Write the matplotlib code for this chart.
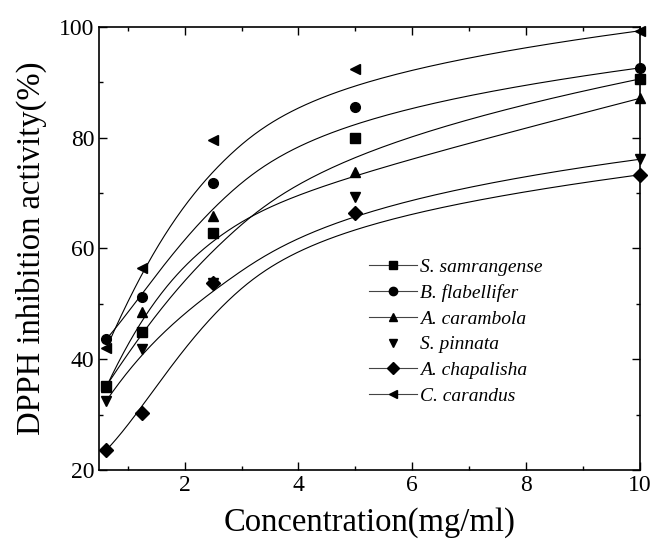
import numpy as np
import matplotlib.pyplot as plt
from matplotlib.lines import Line2D
from matplotlib.ticker import MultipleLocator

# concentration (mg/ml)
conc = [0.625, 1.25, 2.5, 5, 10]

species = ['S. samrangense', 'B. flabellifer', 'A. carambola',
           'S. pinnata', 'A. chapalisha', 'C. carandus']
markers = ['s', 'o', '^', 'v', 'D', '<']

samrangense = [35.2, 44.9, 62.7, 80.0, 90.6]
flabellifer = [43.6, 51.2, 71.9, 85.6, 92.6]
carambola = [35.0, 48.6, 65.9, 73.8, 87.1]
pinnata = [32.5, 41.8, 53.7, 69.2, 76.1]
chapalisha = [23.6, 30.3, 53.7, 66.4, 73.3]
carandus = [42.0, 56.5, 79.6, 92.4, 99.3]

series = [samrangense, flabellifer, carambola, pinnata, chapalisha, carandus]


def bspline(px, py, k=3, n=300):
    """Clamped B-spline using the data points as control points (like Origin's B-spline line)."""
    P = np.column_stack([px, py]).astype(float)
    m = len(P)
    inner = np.linspace(0, 1, m - k + 1)[1:-1]
    knots = np.concatenate([np.zeros(k + 1), inner, np.ones(k + 1)])
    ts = np.linspace(0, 1, n)
    out = []
    for t in ts:
        # Cox-de Boor basis
        N = np.zeros(len(knots) - 1)
        for i in range(len(knots) - 1):
            if knots[i] <= t < knots[i + 1] or (t == 1 and knots[i] < t <= knots[i + 1]):
                N[i] = 1.0
        for d in range(1, k + 1):
            Nn = np.zeros(len(knots) - 1 - d)
            for i in range(len(Nn)):
                a = b = 0.0
                if knots[i + d] != knots[i]:
                    a = (t - knots[i]) / (knots[i + d] - knots[i]) * N[i]
                if knots[i + d + 1] != knots[i + 1]:
                    b = (knots[i + d + 1] - t) / (knots[i + d + 1] - knots[i + 1]) * N[i + 1]
                Nn[i] = a + b
            N = Nn
        out.append(N @ P)
    out = np.array(out)
    return out[:, 0], out[:, 1]


plt.rcParams['font.family'] = 'Liberation Serif'
fig = plt.figure(figsize=(6.53, 5.49), dpi=100)
ax = fig.add_axes([0.152, 0.144, 0.828, 0.807])

for vals, m in zip(series, markers):
    cx, cy = bspline(conc, vals)
    ax.plot(cx, cy, color='black', lw=0.8)
    ax.plot(conc, vals, linestyle='none', marker=m, color='black',
            markersize=7, clip_on=False, zorder=3)

ax.set_xlim(0.5, 10)
ax.set_ylim(20, 100)
ax.xaxis.set_major_locator(MultipleLocator(2))
ax.xaxis.set_minor_locator(MultipleLocator(1))
ax.yaxis.set_major_locator(MultipleLocator(20))
ax.yaxis.set_minor_locator(MultipleLocator(10))
ax.tick_params(which='both', direction='in', top=True, right=True,
               labelsize=17, width=1)
ax.tick_params(which='major', length=6)
ax.tick_params(which='minor', length=3)
for s in ax.spines.values():
    s.set_linewidth(1.2)

ax.set_xlabel('Concentration(mg/ml)', fontsize=23.5, labelpad=8)
ax.set_ylabel('DPPH inhibition activity(%)', fontsize=23.5, labelpad=9)

handles = []
for name, m in zip(species, markers):
    ls = 'none' if name == 'S. pinnata' else '-'
    handles.append(Line2D([], [], color='#444444', lw=0.8, linestyle=ls,
                          marker=m, markersize=6, markerfacecolor='black',
                          markeredgecolor='black'))
ax.legend(handles, species, loc='upper left', bbox_to_anchor=(0.48, 0.5),
          frameon=False, prop={'family': 'Liberation Serif', 'style': 'italic', 'size': 14},
          handlelength=2.5, handletextpad=0.15, labelspacing=0.42, borderpad=0)

fig.savefig('out.png', dpi=100)
